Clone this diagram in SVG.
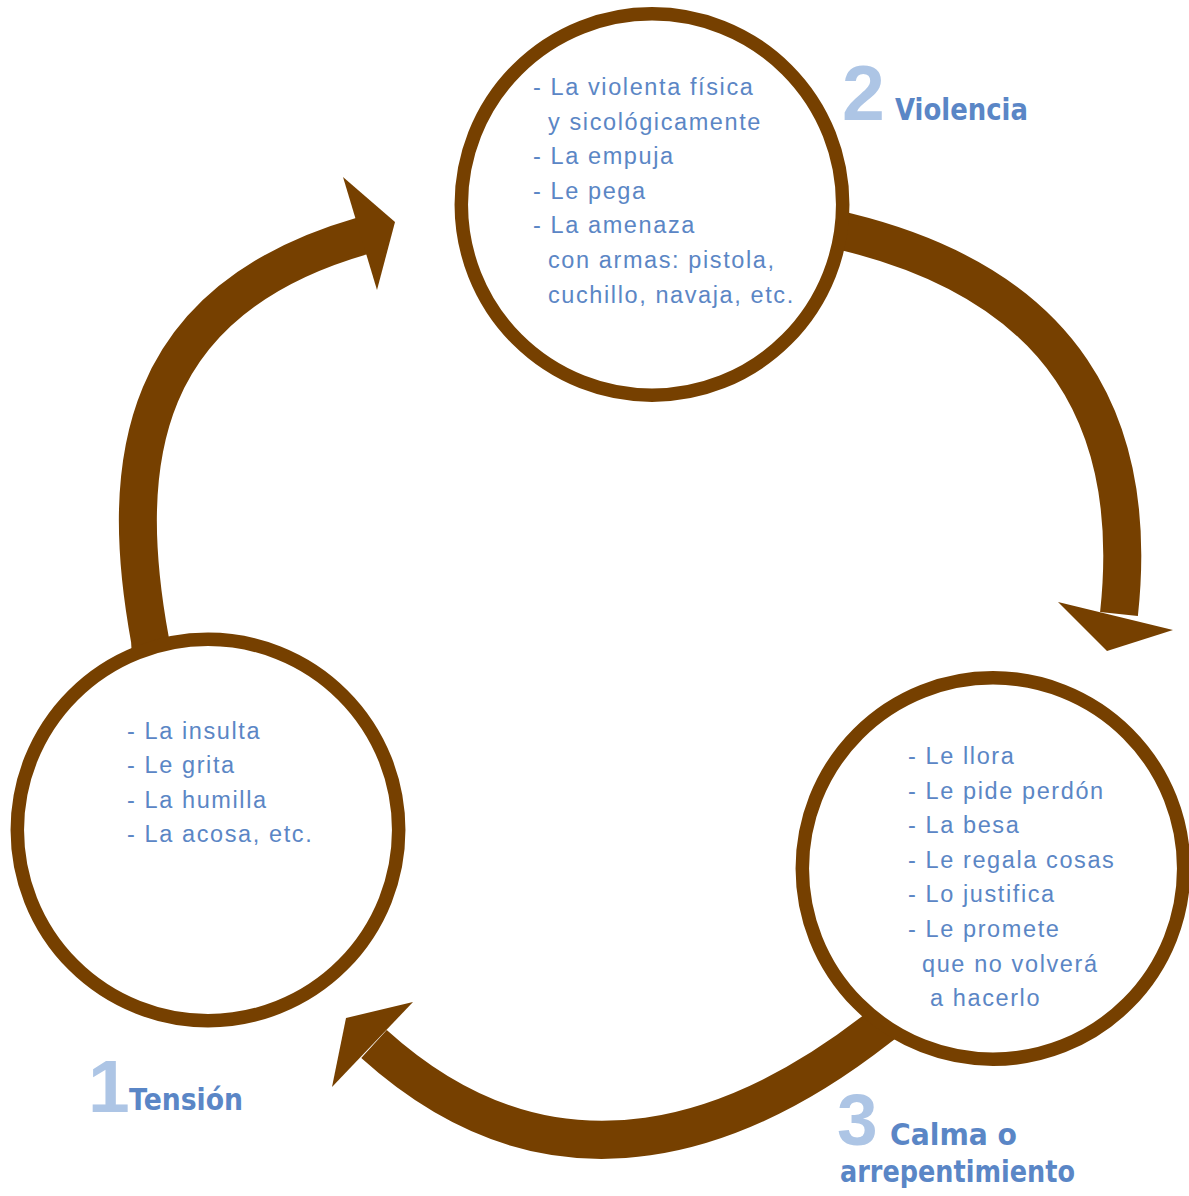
<svg xmlns="http://www.w3.org/2000/svg" width="1189" height="1196" viewBox="0 0 1189 1196">
<style>
.body{fill:none;stroke:#764000;stroke-width:38;stroke-linecap:butt}
.head{fill:#764000}
.ring{fill:#ffffff;stroke:#764000;stroke-width:13.5}
.t{font-family:"Liberation Sans",Arial,sans-serif;font-size:23.5px;letter-spacing:1.6px;fill:#5b86c5}
.num{font-family:"Liberation Sans",Arial,sans-serif;font-weight:bold;fill:#adc5e5}
.lbl{font-family:"DejaVu Sans","Liberation Sans",sans-serif;font-weight:bold;font-size:31px;fill:#5a86c6}
</style>
<rect width="1189" height="1196" fill="#ffffff"/>
<g id="connectors">
<path class="body" d="M153,690 L150,640 C117,460 140,300 362,236"/>
<polygon class="head" points="343,177 395,222 377,290"/>
<path class="body" d="M815,224 L847,232 C1062,285 1140,420 1119,614"/>
<polygon class="head" points="1058,602 1107,651 1173,630"/>
<path class="body" d="M905,1008 L878,1028 C750,1128 560,1212 374,1044"/>
<polygon class="head" points="413,1002 346,1018 332,1087"/>
</g>
<g id="node-violencia">
<circle class="ring" cx="652" cy="204.5" r="190.7"/>
<text class="t" x="533" y="95">- La violenta física</text>
<text class="t" x="548" y="129.6">y sicológicamente</text>
<text class="t" x="533" y="164.2">- La empuja</text>
<text class="t" x="533" y="198.8">- Le pega</text>
<text class="t" x="533" y="233.4">- La amenaza</text>
<text class="t" x="548" y="268">con armas: pistola,</text>
<text class="t" x="548" y="302.6">cuchillo, navaja, etc.</text>
</g>
<g id="node-tension">
<circle class="ring" cx="208" cy="830" r="190.7"/>
<text class="t" x="127" y="738.5">- La insulta</text>
<text class="t" x="127" y="773.2">- Le grita</text>
<text class="t" x="127" y="807.8">- La humilla</text>
<text class="t" x="127" y="842.3">- La acosa, etc.</text>
</g>
<g id="node-calma">
<circle class="ring" cx="993" cy="868.5" r="190.7"/>
<text class="t" x="908" y="764">- Le llora</text>
<text class="t" x="908" y="798.5">- Le pide perdón</text>
<text class="t" x="908" y="833">- La besa</text>
<text class="t" x="908" y="867.5">- Le regala cosas</text>
<text class="t" x="908" y="902">- Lo justifica</text>
<text class="t" x="908" y="937">- Le promete</text>
<text class="t" x="922" y="972">que no volverá</text>
<text class="t" x="930" y="1006">a hacerlo</text>
</g>
<g id="label-2">
<text class="num" x="842" y="120" font-size="77">2</text>
<text class="lbl" x="895" y="120" textLength="133" lengthAdjust="spacingAndGlyphs">Violencia</text>
</g>
<g id="label-1">
<text class="num" x="88" y="1112" font-size="75">1</text>
<text class="lbl" x="129" y="1110" textLength="114" lengthAdjust="spacingAndGlyphs">Tensión</text>
</g>
<g id="label-3">
<text class="num" x="837" y="1145" font-size="73">3</text>
<text class="lbl" x="890" y="1145" textLength="127" lengthAdjust="spacingAndGlyphs">Calma o</text>
<text class="lbl" x="840" y="1182" textLength="235" lengthAdjust="spacingAndGlyphs">arrepentimiento</text>
</g>
</svg>
